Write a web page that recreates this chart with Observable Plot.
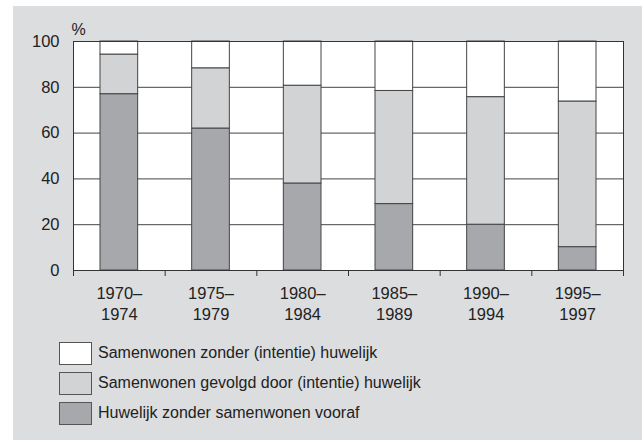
<!DOCTYPE html>
<html>
<head>
<meta charset="utf-8">
<script src="https://cdn.jsdelivr.net/npm/d3@7"></script>
<script src="https://cdn.jsdelivr.net/npm/@observablehq/plot@0.6"></script>
<style>
  body { margin: 0; background: #ffffff; font-family: "Liberation Sans", Arial, sans-serif; }
  #panel { position: absolute; left: 13px; top: 6px; width: 629px; height: 434px; background: #dcdddf; }
  #chart { position: absolute; left: 0; top: 0; }
  #legend { position: absolute; left: 46px; top: 336px; }
  .row { display: flex; align-items: center; height: 22px; margin-bottom: 8px; font-size: 16px; color: #222; }
  .sw { width: 31px; height: 21px; border: 1px solid #555; box-sizing: content-box; margin-right: 6px; }
</style>
</head>
<body>
<div id="panel"><div id="chart"></div><div id="legend"></div></div>
<script>
const periods = ["1970–\n1974", "1975–\n1979", "1980–\n1984", "1985–\n1989", "1990–\n1994", "1995–\n1997"];
const seriesNames = [
  "Huwelijk zonder samenwonen vooraf",
  "Samenwonen gevolgd door (intentie) huwelijk",
  "Samenwonen zonder (intentie) huwelijk"
];
const huwelijkZonder = [77, 62, 38, 29, 20, 10.2];
const samenGevolgd = [17.3, 26.3, 42.7, 49.4, 55.7, 63.6];
const samenZonder = [5.7, 11.7, 19.3, 21.6, 24.3, 26.2];
const seriesColors = ["#a7a8ab", "#d2d3d5", "#ffffff"];
const yTicks = [0, 20, 40, 60, 80, 100];
const gridValues = [20, 40, 60, 80];

const seriesValues = [huwelijkZonder, samenGevolgd, samenZonder];
const data = [];
seriesNames.forEach((s, k) => {
  periods.forEach((p, i) => data.push({i, period: p, series: s, value: seriesValues[k][i]}));
});

const chart = Plot.plot({
  width: 629,
  height: 324,
  marginLeft: 60,
  marginRight: 19,
  marginTop: 35,
  marginBottom: 60,
  style: { background: "transparent", fontSize: "16px", fontFamily: "Liberation Sans, Arial, sans-serif", color: "#222" },
  x: { type: "linear", domain: [0, periods.length], axis: null },
  y: { domain: [0, 100], axis: null },
  color: { domain: seriesNames, range: seriesColors },
  marks: [
    Plot.frame({ fill: "white", stroke: null }),
    Plot.ruleY(gridValues, { stroke: "#444", strokeWidth: 1 }),
    Plot.rectY(data, Plot.stackY({
      x1: "i",
      x2: d => d.i + 1,
      y: "value",
      fill: "series",
      order: seriesNames,
      stroke: "#444",
      strokeWidth: 1,
      insetLeft: 27,
      insetRight: 27
    })),
    Plot.frame({ stroke: "#333", strokeWidth: 1 }),
    Plot.axisX({ ticks: d3.range(0, periods.length + 1), tickFormat: () => "", tickSize: 6, stroke: "#333", label: null }),
    Plot.axisX({
      ticks: d3.range(0, periods.length).map(i => i + 0.5),
      tickFormat: d => periods[Math.floor(d)],
      tickSize: 0,
      tickPadding: 13,
      lineHeight: 1.3,
      fontSize: 16.5,
      label: null
    }),
    Plot.axisY({ ticks: yTicks, tickSize: 0, tickPadding: 14, fontSize: 16.5, label: null }),
    Plot.text(["%"], { frameAnchor: "top-left", dx: 5, dy: -18, textAnchor: "middle", fontSize: 16, fill: "#222" })
  ]
});
document.getElementById("chart").appendChild(chart);

const legendOrder = [2, 1, 0];
const legend = document.getElementById("legend");
legendOrder.forEach(k => {
  const row = document.createElement("div");
  row.className = "row";
  const sw = document.createElement("div");
  sw.className = "sw";
  sw.style.background = seriesColors[k];
  const label = document.createElement("span");
  label.textContent = seriesNames[k];
  row.appendChild(sw);
  row.appendChild(label);
  legend.appendChild(row);
});
</script>
</body>
</html>
